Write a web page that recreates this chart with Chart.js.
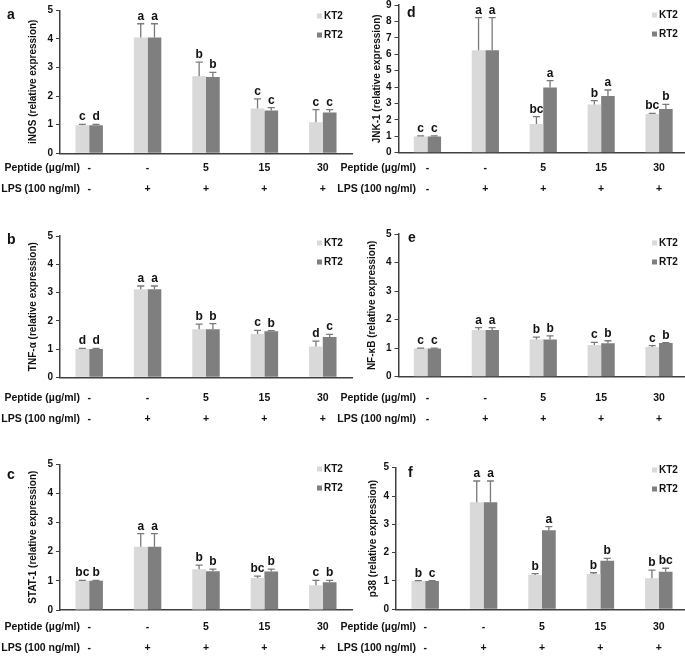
<!DOCTYPE html>
<html>
<head>
<meta charset="utf-8">
<script src="https://cdn.jsdelivr.net/npm/chart.js@4.4.1/dist/chart.umd.min.js"></script>
<style>
  html, body { margin: 0; padding: 0; background: #fff; overflow: hidden; }
  body { width: 685px; height: 656px; position: relative; }
  canvas { position: absolute; }
</style>
</head>
<body>
<script>
// treatment groups along the x axis
const peptideLabels = ['-', '-', '5', '15', '30'];
const lpsLabels = ['-', '+', '+', '+', '+'];
const seriesNames = ['KT2', 'RT2'];

// a - iNOS
const inosKT2 = [0.98, 4.05, 2.69, 1.57, 1.09];
const inosKT2Err = [0.03, 0.48, 0.5, 0.33, 0.44];
const inosRT2 = [0.98, 4.05, 2.67, 1.5, 1.43];
const inosRT2Err = [0.03, 0.48, 0.16, 0.1, 0.1];
const inosKT2Letters = ['c', 'a', 'b', 'c', 'c'];
const inosRT2Letters = ['d', 'a', 'b', 'c', 'c'];

// b - TNF-α
const tnfKT2 = [1.0, 3.12, 1.7, 1.53, 1.09];
const tnfKT2Err = [0.02, 0.11, 0.18, 0.13, 0.19];
const tnfRT2 = [1.0, 3.12, 1.7, 1.63, 1.43];
const tnfRT2Err = [0.02, 0.11, 0.2, 0.02, 0.09];
const tnfKT2Letters = ['d', 'a', 'b', 'c', 'd'];
const tnfRT2Letters = ['d', 'a', 'b', 'b', 'c'];

// c - STAT-1
const statKT2 = [1.0, 2.17, 1.4, 1.1, 0.85];
const statKT2Err = [0.02, 0.45, 0.14, 0.06, 0.17];
const statRT2 = [1.0, 2.17, 1.33, 1.32, 0.95];
const statRT2Err = [0.02, 0.45, 0.07, 0.08, 0.07];
const statKT2Letters = ['bc', 'a', 'b', 'bc', 'c'];
const statRT2Letters = ['b', 'a', 'b', 'b', 'b'];

// d - JNK-1
const jnkKT2 = [0.98, 6.25, 1.75, 2.93, 2.36];
const jnkKT2Err = [0.04, 1.98, 0.45, 0.24, 0.04];
const jnkRT2 = [0.98, 6.25, 3.98, 3.46, 2.66];
const jnkRT2Err = [0.04, 1.98, 0.41, 0.36, 0.29];
const jnkKT2Letters = ['c', 'a', 'bc', 'b', 'bc'];
const jnkRT2Letters = ['c', 'a', 'a', 'a', 'b'];

// e - NF-κB
const nfkbKT2 = [0.99, 1.64, 1.3, 1.11, 1.04];
const nfkbKT2Err = [0.01, 0.08, 0.09, 0.09, 0.05];
const nfkbRT2 = [0.99, 1.64, 1.3, 1.17, 1.18];
const nfkbRT2Err = [0.01, 0.08, 0.13, 0.09, 0.01];
const nfkbKT2Letters = ['c', 'a', 'b', 'c', 'c'];
const nfkbRT2Letters = ['c', 'a', 'b', 'b', 'b'];

// f - p38
const p38KT2 = [1.0, 3.78, 1.21, 1.25, 1.1];
const p38KT2Err = [0.01, 0.75, 0.05, 0.04, 0.28];
const p38RT2 = [1.0, 3.78, 2.79, 1.71, 1.33];
const p38RT2Err = [0.01, 0.75, 0.13, 0.09, 0.12];
const p38KT2Letters = ['b', 'a', 'b', 'b', 'b'];
const p38RT2Letters = ['c', 'a', 'a', 'b', 'bc'];

const FONT = 'Arial, "Liberation Sans", sans-serif';
const TEXT = '#111';
const AXIS = '#404040';

// page layout (page pixels)
const colLeft = [0, 336];
const colAreaRight = [352, 688];
const colRowLabelRight = [80, 416];
const colLegendX = [317, 652];
const rowCanvasTop = [-12, 203, 418];
const rowCanvasBottom = [215, 430, 656];
const rowPeptideY = [168, 398, 627];
const CANVAS_W = 362;
const LINE_H = 21.5;

const panels = [
  { tag: 'a', title: 'iNOS (relative expression)', yMax: 5, col: 0, row: 0,
    kt2: inosKT2, kt2Err: inosKT2Err, kt2L: inosKT2Letters, rt2: inosRT2, rt2Err: inosRT2Err, rt2L: inosRT2Letters,
    axisX: 60, yTop: 10.3, yZero: 153.3, titleX: 33, legendY: 16, tagX: 7, tagY: 19 },
  { tag: 'b', title: 'TNF-α (relative expression)', yMax: 5, col: 0, row: 1,
    kt2: tnfKT2, kt2Err: tnfKT2Err, kt2L: tnfKT2Letters, rt2: tnfRT2, rt2Err: tnfRT2Err, rt2L: tnfRT2Letters,
    axisX: 60, yTop: 236, yZero: 377.3, titleX: 33, legendY: 243, tagX: 7, tagY: 244 },
  { tag: 'c', title: 'STAT-1 (relative expression)', yMax: 5, col: 0, row: 2,
    kt2: statKT2, kt2Err: statKT2Err, kt2L: statKT2Letters, rt2: statRT2, rt2Err: statRT2Err, rt2L: statRT2Letters,
    axisX: 60, yTop: 464.3, yZero: 610, titleX: 33, legendY: 469, tagX: 7, tagY: 478.5 },
  { tag: 'd', title: 'JNK-1 (relative expression)', yMax: 9, col: 1, row: 0,
    kt2: jnkKT2, kt2Err: jnkKT2Err, kt2L: jnkKT2Letters, rt2: jnkRT2, rt2Err: jnkRT2Err, rt2L: jnkRT2Letters,
    axisX: 398.5, yTop: 5, yZero: 152.7, titleX: 377.3, legendY: 15, tagX: 407, tagY: 16.7 },
  { tag: 'e', title: 'NF-κB (relative expression)', yMax: 5, col: 1, row: 1,
    kt2: nfkbKT2, kt2Err: nfkbKT2Err, kt2L: nfkbKT2Letters, rt2: nfkbRT2, rt2Err: nfkbRT2Err, rt2L: nfkbRT2Letters,
    axisX: 398.5, yTop: 234, yZero: 376.7, titleX: 372.5, legendY: 243, tagX: 408, tagY: 241.7 },
  { tag: 'f', title: 'p38 (relative expression)', yMax: 5, col: 1, row: 2,
    kt2: p38KT2, kt2Err: p38KT2Err, kt2L: p38KT2Letters, rt2: p38RT2, rt2Err: p38RT2Err, rt2L: p38RT2Letters,
    axisX: 396, yTop: 467.7, yZero: 609.3, titleX: 373, legendY: 470, tagX: 408, tagY: 477.3 }
];

// error bars, letters, legend, row captions and panel tag
const extras = {
  id: 'extras',
  afterDatasetsDraw(chart) {
    const ctx = chart.ctx;
    const y = chart.scales.y;
    ctx.save();
    chart.data.datasets.forEach((ds, di) => {
      chart.getDatasetMeta(di).data.forEach((bar, i) => {
        const top = y.getPixelForValue(ds.data[i] + ds.err[i]);
        ctx.strokeStyle = '#7a7a7a';
        ctx.lineWidth = 1.3;
        ctx.beginPath();
        ctx.moveTo(bar.x, bar.y);
        ctx.lineTo(bar.x, top);
        ctx.moveTo(bar.x - 3.5, top);
        ctx.lineTo(bar.x + 3.5, top);
        ctx.stroke();
        ctx.fillStyle = TEXT;
        ctx.font = 'bold 12px ' + FONT;
        ctx.textAlign = 'center';
        ctx.textBaseline = 'alphabetic';
        ctx.fillText(ds.letters[i], bar.x, top - 4);
      });
    });
    ctx.restore();
  },
  afterDraw(chart, args, o) {
    const ctx = chart.ctx;
    ctx.save();
    // legend
    ctx.font = 'bold 10px ' + FONT;
    ctx.textBaseline = 'middle';
    ctx.textAlign = 'left';
    chart.data.datasets.forEach((ds, di) => {
      const ly = o.legendY + di * 19;
      ctx.fillStyle = ds.backgroundColor;
      ctx.fillRect(o.legendX, ly - 2.5, 5, 5);
      ctx.fillStyle = TEXT;
      ctx.fillText(ds.label, o.legendX + 7, ly);
    });
    // row captions
    const x = chart.scales.x;
    const pad = chart.options.scales.x.ticks.padding;
    const y0 = x.top + pad + LINE_H / 2;
    ctx.font = 'bold 10.5px ' + FONT;
    ctx.textAlign = 'right';
    ctx.fillText('Peptide (µg/ml)', o.rowLabelX, y0);
    ctx.fillText('LPS (100 ng/ml)', o.rowLabelX, y0 + LINE_H);
    // panel tag
    ctx.font = 'bold 14px ' + FONT;
    ctx.textAlign = 'left';
    ctx.textBaseline = 'alphabetic';
    ctx.fillText(o.tag, o.tagX, o.tagY);
    ctx.restore();
  }
};

panels.forEach(p => {
  const left = colLeft[p.col];
  const top = rowCanvasTop[p.row];
  const height = rowCanvasBottom[p.row] - top;
  const canvas = document.createElement('canvas');
  canvas.width = CANVAS_W;
  canvas.height = height;
  canvas.style.left = left + 'px';
  canvas.style.top = top + 'px';
  document.body.appendChild(canvas);

  new Chart(canvas, {
    type: 'bar',
    data: {
      labels: peptideLabels.map((v, i) => [v, lpsLabels[i]]),
      datasets: [
        { label: seriesNames[0], data: p.kt2, err: p.kt2Err, letters: p.kt2L, backgroundColor: '#d9d9d9' },
        { label: seriesNames[1], data: p.rt2, err: p.rt2Err, letters: p.rt2L, backgroundColor: '#7f7f7f' }
      ]
    },
    options: {
      responsive: false,
      animation: false,
      devicePixelRatio: 1,
      categoryPercentage: 0.47,
      barPercentage: 1,
      layout: { padding: { top: p.yTop - top, right: left + CANVAS_W - colAreaRight[p.col], left: 0, bottom: 0 } },
      plugins: {
        legend: { display: false },
        tooltip: { enabled: false },
        extras: {
          tag: p.tag, tagX: p.tagX - left, tagY: p.tagY - top,
          legendX: colLegendX[p.col] - left, legendY: p.legendY - top,
          rowLabelX: colRowLabelRight[p.col] - left
        }
      },
      scales: {
        x: {
          grid: { display: false, drawTicks: false },
          border: { color: AXIS, width: 1.5 },
          ticks: {
            color: TEXT, autoSkip: false, maxRotation: 0,
            padding: rowPeptideY[p.row] - p.yZero - LINE_H / 2,
            font: { family: FONT, size: 10.5, weight: 'bold', lineHeight: LINE_H + 'px' }
          },
          afterFit: s => { s.height = rowCanvasBottom[p.row] - p.yZero; }
        },
        y: {
          min: 0, max: p.yMax,
          grid: { drawOnChartArea: false, drawTicks: true, tickLength: 4, color: AXIS },
          border: { color: AXIS, width: 1.5 },
          ticks: { stepSize: 1, color: TEXT, padding: 3, font: { family: FONT, size: 10, weight: 'bold' } },
          title: {
            display: true, text: p.title, color: TEXT,
            font: { family: FONT, size: 10, weight: 'bold' },
            padding: { top: p.titleX - left - 6, bottom: 0 }
          },
          afterFit: s => { s.width = p.axisX - left; }
        }
      }
    },
    plugins: [extras]
  });
});
</script>
</body>
</html>
